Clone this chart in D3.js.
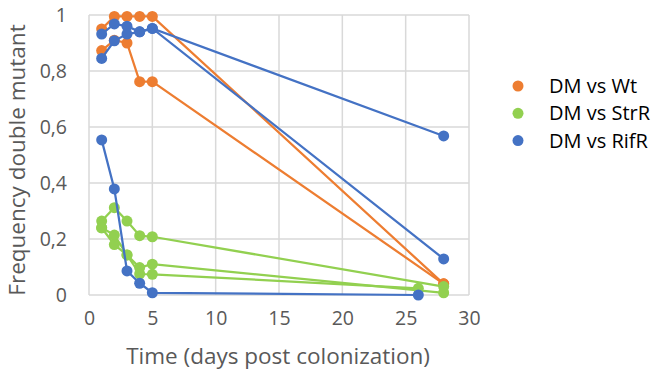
<!DOCTYPE html>
<html>
<head>
<meta charset="utf-8">
<script src="https://cdn.jsdelivr.net/npm/d3@7"></script>
<style>
  body { margin: 0; background: #fff; }
  svg text { font-family: "Open Sans", "Noto Sans", sans-serif; }
</style>
</head>
<body>
<svg id="chart" width="652" height="378"></svg>
<script>
// tick labels
const xTicks = [0, 5, 10, 15, 20, 25, 30]
const yTicks = [0, 0.2, 0.4, 0.6, 0.8, 1]

// groups shown in the legend
const groupNames = ['DM vs Wt', 'DM vs StrR', 'DM vs RifR']
const groupColors = ['#ED7D31', '#92D050', '#4472C4']

// each replicate line: days and frequency
const wtDays = [[1, 2, 3, 4, 5, 28], [1, 2, 3, 4, 5, 28]]
const wtFreq = [[0.95, 0.995, 0.995, 0.995, 0.995, 0.04], [0.873, 0.91, 0.9, 0.762, 0.762, 0.04]]

const strDays = [[1, 2, 3, 4, 5, 28], [1, 2, 3, 4, 5, 28], [1, 2, 3, 4, 5, 26]]
const strFreq = [[0.264, 0.312, 0.264, 0.212, 0.208, 0.03],
                 [0.24, 0.214, 0.143, 0.098, 0.11, 0.008],
                 [0.24, 0.18, 0.143, 0.075, 0.074, 0.024]]

const rifDays = [[1, 2, 3, 4, 5, 26], [1, 2, 3, 4, 5, 28], [1, 2, 3, 4, 5, 28]]
const rifFreq = [[0.554, 0.379, 0.086, 0.042, 0.008, 0.0],
                 [0.932, 0.968, 0.96, 0.94, 0.952, 0.568],
                 [0.845, 0.908, 0.932, 0.94, 0.952, 0.129]]

let pad_left = 89
let pad_right = 183
let pad_top = 15
let pad_bottom = 83

let svg = d3.select('#chart')
let W = 652, H = 378

let xScale = d3.scaleLinear().domain([0, 30]).range([pad_left, W - pad_right])
let yScale = d3.scaleLinear().domain([0, 1]).range([H - pad_bottom, pad_top])

// gridlines
let grid = svg.append('g')
grid.selectAll('.vg').data(xTicks).join('line')
    .attr('x1', d => xScale(d)).attr('x2', d => xScale(d))
    .attr('y1', yScale(0)).attr('y2', yScale(1))
    .attr('stroke', '#D9D9D9').attr('stroke-width', 1.5)
grid.selectAll('.hg').data(yTicks).join('line')
    .attr('y1', d => yScale(d)).attr('y2', d => yScale(d))
    .attr('x1', xScale(0)).attr('x2', xScale(30))
    .attr('stroke', '#D9D9D9').attr('stroke-width', 1.5)

// axes (labels only)
let xAxis = d3.axisBottom(xScale).tickValues(xTicks).tickSize(0).tickPadding(16)
svg.append('g').attr('transform', 'translate(0,' + yScale(0) + ')').call(xAxis)
   .call(g => g.select('.domain').remove())
   .selectAll('text').attr('font-size', 19.5).attr('fill', '#595959')

let yAxis = d3.axisLeft(yScale).tickValues(yTicks).tickSize(0).tickPadding(22)
    .tickFormat(d => String(d).replace('.', ','))
svg.append('g').attr('transform', 'translate(' + xScale(0) + ',0)').call(yAxis)
   .call(g => g.select('.domain').remove())
   .selectAll('text').attr('font-size', 19.5).attr('fill', '#595959')

svg.append('text').text('Time (days post colonization)')
   .attr('x', 278).attr('y', 364).attr('text-anchor', 'middle')
   .attr('font-size', 22.5).attr('fill', '#595959')
svg.append('text').text('Frequency double mutant')
   .attr('transform', 'translate(25,160) rotate(-90)').attr('text-anchor', 'middle')
   .attr('font-size', 22.5).attr('fill', '#595959')

// build line lists
function makeLines(days, freq, color) {
    return days.map((ds, i) => ({color: color, pts: ds.map((d, j) => ({x: d, y: freq[i][j]}))}))
}
let allLines = [].concat(
    makeLines(wtDays, wtFreq, groupColors[0]),
    makeLines(strDays, strFreq, groupColors[1]),
    makeLines(rifDays, rifFreq, groupColors[2])
)

let line = d3.line().x(d => xScale(d.x)).y(d => yScale(d.y))
let series = svg.append('g').selectAll('g').data(allLines).join('g')
series.append('path').attr('d', d => line(d.pts))
      .attr('fill', 'none').attr('stroke', d => d.color).attr('stroke-width', 2.25)
series.selectAll('circle').data(d => d.pts.map(p => ({...p, color: d.color}))).join('circle')
      .attr('cx', d => xScale(d.x)).attr('cy', d => yScale(d.y)).attr('r', 5.5)
      .attr('fill', d => d.color)

// legend
let legend = svg.append('g').selectAll('g').data(groupNames).join('g')
    .attr('transform', (d, i) => 'translate(518,' + (86 + i * 27.3) + ')')
legend.append('circle').attr('r', 5.5).attr('fill', (d, i) => groupColors[i])
legend.append('text').text(d => d).attr('x', 31).attr('dy', '0.35em')
      .attr('font-size', 20).attr('fill', '#000')
</script>
</body>
</html>
